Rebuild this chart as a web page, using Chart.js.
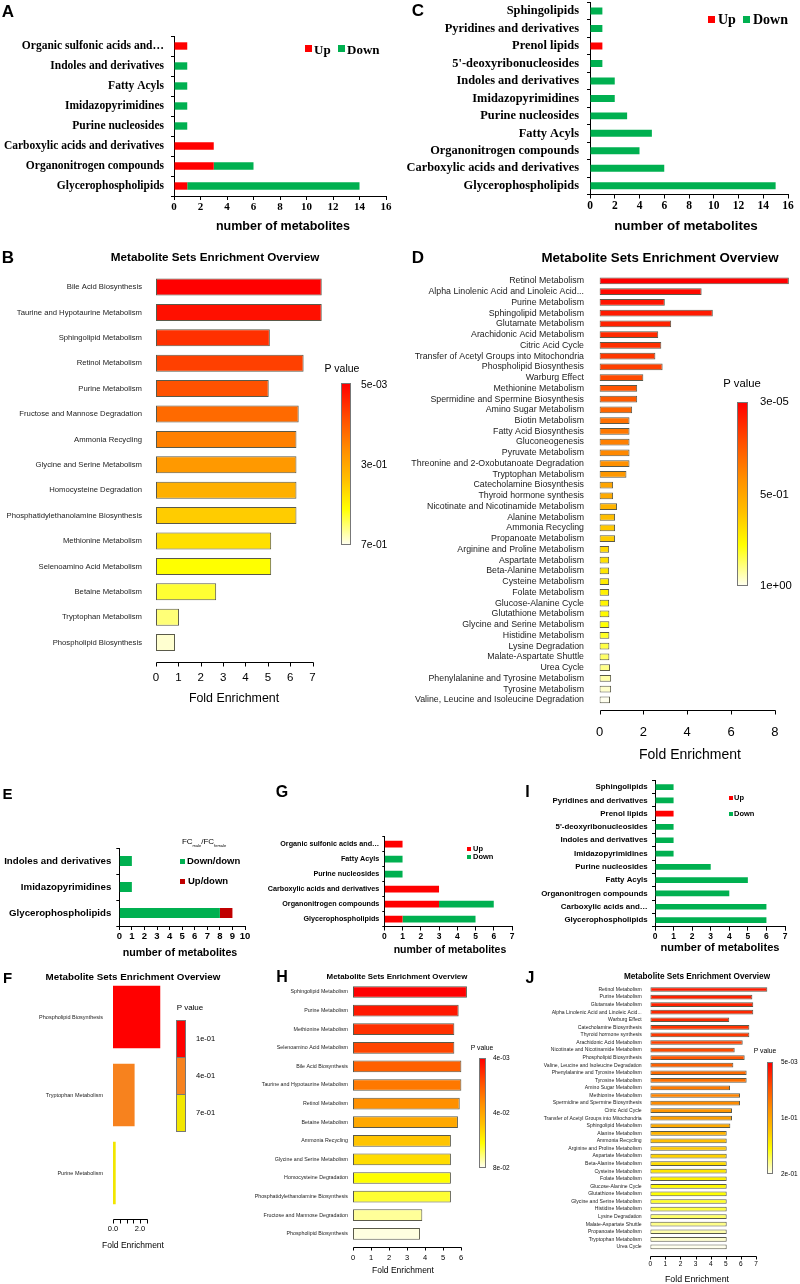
<!DOCTYPE html>
<html><head><meta charset="utf-8">
<script src="https://cdn.jsdelivr.net/npm/chart.js@4.4.1/dist/chart.umd.min.js"></script>
<style>
html,body{margin:0;padding:0;background:#fff;}
body{width:800px;height:1284px;overflow:hidden;position:relative;font-family:"Liberation Sans",Arial,sans-serif;}
canvas{position:absolute;}
.t{position:absolute;white-space:nowrap;line-height:1;color:#000;}
.sq{position:absolute;}
.cb{position:absolute;border:1px solid #777;box-sizing:border-box;}
</style></head><body>
<script>
// ---------------- DATA ----------------
const aCats = ['Organic sulfonic acids and\u2026','Indoles and derivatives','Fatty Acyls','Imidazopyrimidines','Purine nucleosides','Carboxylic acids and derivatives','Organonitrogen compounds','Glycerophospholipids'];
const aUp   = [1,0,0,0,0,3,3,1];
const aDown = [0,1,1,1,1,0,3,13];

const cCats = ['Sphingolipids','Pyridines and derivatives','Prenol lipids',"5'-deoxyribonucleosides",'Indoles and derivatives','Imidazopyrimidines','Purine nucleosides','Fatty Acyls','Organonitrogen compounds','Carboxylic acids and derivatives','Glycerophospholipids'];
const cUp   = [0,0,1,0,0,0,0,0,0,0,0];
const cDown = [1,1,0,1,2,2,3,5,4,6,15];

const bCats = ['Bile Acid Biosynthesis','Taurine and Hypotaurine Metabolism','Sphingolipid Metabolism','Retinol Metabolism','Purine Metabolism','Fructose and Mannose Degradation','Ammonia Recycling','Glycine and Serine Metabolism','Homocysteine Degradation','Phosphatidylethanolamine Biosynthesis','Methionine Metabolism','Selenoamino Acid Metabolism','Betaine Metabolism','Tryptophan Metabolism','Phospholipid Biosynthesis'];
const bFold = [7.41,7.41,5.09,6.6,5.04,6.38,6.28,6.28,6.28,6.28,5.15,5.15,2.69,1.03,0.85];
const bTicks = [0,1,2,3,4,5,6,7];
const bPLabels = ['5e-03','3e-01','7e-01'];

const dCats = ['Retinol Metabolism','Alpha Linolenic Acid and Linoleic Acid...','Purine Metabolism','Sphingolipid Metabolism','Glutamate Metabolism','Arachidonic Acid Metabolism','Citric Acid Cycle','Transfer of Acetyl Groups into Mitochondria','Phospholipid Biosynthesis','Warburg Effect','Methionine Metabolism','Spermidine and Spermine Biosynthesis','Amino Sugar Metabolism','Biotin Metabolism','Fatty Acid Biosynthesis','Gluconeogenesis','Pyruvate Metabolism','Threonine and 2-Oxobutanoate Degradation','Tryptophan Metabolism','Catecholamine Biosynthesis','Thyroid hormone synthesis','Nicotinate and Nicotinamide Metabolism','Alanine Metabolism','Ammonia Recycling','Propanoate Metabolism','Arginine and Proline Metabolism','Aspartate Metabolism','Beta-Alanine Metabolism','Cysteine Metabolism','Folate Metabolism','Glucose-Alanine Cycle','Glutathione Metabolism','Glycine and Serine Metabolism','Histidine Metabolism','Lysine Degradation','Malate-Aspartate Shuttle','Urea Cycle','Phenylalanine and Tyrosine Metabolism','Tyrosine Metabolism','Valine, Leucine and Isoleucine Degradation'];
const dFold = [8.64,4.66,2.98,5.17,3.27,2.68,2.82,2.55,2.88,2.0,1.72,1.72,1.49,1.37,1.37,1.37,1.37,1.37,1.23,0.62,0.62,0.8,0.71,0.71,0.71,0.44,0.44,0.44,0.44,0.44,0.44,0.45,0.45,0.45,0.45,0.45,0.48,0.53,0.53,0.48];
const dTicks = [0,2,4,6,8];
const dPLabels = ['3e-05','5e-01','1e+00'];

const eCats = ['Indoles and derivatives','Imidazopyrimidines','Glycerophospholipids'];
const eDownDown = [1,1,8];
const eUpDown   = [0,0,1];

const fCats = ['Phospholipid Biosynthesis','Tryptophan Metabolism','Purine Metabolism'];
const fFold = [3.5,1.6,0.2];
const fTicks = [0,0.5,1,1.5,2,2.5];
const fPLabels = ['1e-01','4e-01','7e-01'];

const gCats = ['Organic sulfonic acids and\u2026','Fatty Acyls','Purine nucleosides','Carboxylic acids and derivatives','Organonitrogen compounds','Glycerophospholipids'];
const gUp   = [1,0,0,3,3,1];
const gDown = [0,1,1,0,3,4];

const hCats = ['Sphingolipid Metabolism','Purine Metabolism','Methionine Metabolism','Selenoamino Acid Metabolism','Bile Acid Biosynthesis','Taurine and Hypotaurine Metabolism','Retinol Metabolism','Betaine Metabolism','Ammonia Recycling','Glycine and Serine Metabolism','Homocysteine Degradation','Phosphatidylethanolamine Biosynthesis','Fructose and Mannose Degradation','Phospholipid Biosynthesis'];
const hFold = [6.33,5.87,5.63,5.63,6.02,6.02,5.93,5.83,5.44,5.44,5.44,5.44,3.85,3.72];
const hTicks = [0,1,2,3,4,5,6];
const hPLabels = ['4e-03','4e-02','8e-02'];

const iCats = ['Sphingolipids','Pyridines and derivatives','Prenol lipids',"5'-deoxyribonucleosides",'Indoles and derivatives','Imidazopyrimidines','Purine nucleosides','Fatty Acyls','Organonitrogen compounds','Carboxylic acids and\u2026','Glycerophospholipids'];
const iUp   = [0,0,1,0,0,0,0,0,0,0,0];
const iDown = [1,1,0,1,1,1,3,5,4,6,6];

const jCats = ['Retinol Metabolism','Purine Metabolism','Glutamate Metabolism','Alpha Linolenic Acid and Linoleic Acid...','Warburg Effect','Catecholamine Biosynthesis','Thyroid hormone synthesis','Arachidonic Acid Metabolism','Nicotinate and Nicotinamide Metabolism','Phospholipid Biosynthesis','Valine, Leucine and Isoleucine Degradation','Phenylalanine and Tyrosine Metabolism','Tyrosine Metabolism','Amino Sugar Metabolism','Methionine Metabolism','Spermidine and Spermine Biosynthesis','Citric Acid Cycle','Transfer of Acetyl Groups into Mitochondria','Sphingolipid Metabolism','Alanine Metabolism','Ammonia Recycling','Arginine and Proline Metabolism','Aspartate Metabolism','Beta-Alanine Metabolism','Cysteine Metabolism','Folate Metabolism','Glucose-Alanine Cycle','Glutathione Metabolism','Glycine and Serine Metabolism','Histidine Metabolism','Lysine Degradation','Malate-Aspartate Shuttle','Propanoate Metabolism','Tryptophan Metabolism','Urea Cycle'];
const jFold = [7.75,6.76,6.82,6.82,5.23,6.56,6.56,6.12,5.59,6.25,5.5,6.38,6.38,5.28,5.94,5.94,5.41,5.41,5.3,5.06,5.06,5.06,5.06,5.06,5.06,5.06,5.06,5.06,5.06,5.06,5.06,5.06,5.06,5.06,5.06];
const jTicks = [0,1,2,3,4,5,6,7];
const jPLabels = ['5e-03','1e-01','2e-01'];

// ---------------- STYLES (colours) ----------------
const RED = '#ff0000', GREEN = '#00b050', DARKRED = '#c00000';
const bColors = ['#ff0000','#ff1000','#ff3000','#ff4000','#ff5200','#ff6a00','#ff8000','#ff9900','#ffb000','#ffcc00','#ffe000','#ffff00','#ffff33','#ffff77','#ffffd0'];
const dColors = ['#ff0000','#ff0a00','#ff1400','#ff1a00','#ff2200','#ff2a00','#ff3000','#ff3800','#ff4000','#ff4a00','#ff5500','#ff5a00','#ff6600','#ff7000','#ff7800','#ff8000','#ff8800','#ff9000','#ff9800','#ffa500','#ffaa00','#ffb400','#ffbe00','#ffc800','#ffcc00','#ffd800','#ffe000','#ffe600','#ffeb00','#fff000','#fff500','#fffa00','#ffff00','#ffff22','#ffff44','#ffff66','#ffff88','#ffffaa','#ffffcc','#ffffee'];
const fColors = ['#ff0000','#f7821e','#f2e600'];
const hColors = ['#ff0000','#ff1800','#ff3000','#ff4500','#ff6000','#ff7800','#ff9000','#ffa800','#ffc400','#ffdc00','#ffff00','#ffff33','#ffff99','#ffffe0'];
const jColors = ['#ff1a00','#ff2000','#ff2200','#ff2600','#ff2a00','#ff3300','#ff3800','#ff4000','#ff4a00','#ff5500','#ff6000','#ff6a00','#ff7000','#ff7a00','#ff8400','#ff8c00','#ff9600','#ffa000','#ffaa00','#ffb400','#ffbe00','#ffc800','#ffd200','#ffdc00','#ffe600','#fff000','#fff800','#ffff00','#ffff22','#ffff44','#ffff66','#ffff88','#ffffaa','#ffffcc','#ffffee'];
const GRAD = 'linear-gradient(to bottom,#ff0000 0%,#ff5000 22%,#ff9000 42%,#ffc000 60%,#ffff00 78%,#ffffee 100%)';

const SERIF = "'Liberation Serif','Times New Roman',serif";
const SANS = "'Liberation Sans',Arial,sans-serif";
Chart.defaults.animation = false;
Chart.defaults.font.family = SANS;
Chart.defaults.color = '#000';

// ---------------- helpers ----------------
function rAxisPlugin(ticks, gap, len) {
  return { id: 'rAxis', afterDraw(chart) {
    const xs = chart.scales.x, ctx = chart.ctx;
    const y = Math.round(chart.chartArea.bottom + gap) + 0.5;
    ctx.save(); ctx.strokeStyle = '#000'; ctx.lineWidth = 1; ctx.beginPath();
    const p0 = Math.round(xs.getPixelForValue(ticks[0])) + 0.5;
    const p1 = Math.round(xs.getPixelForValue(ticks[ticks.length - 1])) + 0.5;
    ctx.moveTo(p0, y); ctx.lineTo(p1, y);
    for (const v of ticks) { const p = Math.round(xs.getPixelForValue(v)) + 0.5; ctx.moveTo(p, y); ctx.lineTo(p, y + len); }
    ctx.stroke(); ctx.restore();
  }};
}

function makeBar(s) {
  const yTick = s.y.tick || 0;
  const padTopMin = s.y.font.size * 0.6 + s.y.pad + yTick + 3;
  const cl = s.cl;
  const ct = Math.floor(s.top - padTopMin);
  const cw = Math.ceil(s.right + (s.padR || 10) - cl);
  const ch = Math.ceil(s.bottom + (s.xH || 40) - ct);
  const cv = document.createElement('canvas');
  cv.width = cw; cv.height = ch;
  cv.style.left = cl + 'px'; cv.style.top = ct + 'px';
  cv.style.width = cw + 'px'; cv.style.height = ch + 'px';
  document.body.appendChild(cv);
  const xOpt = s.x;
  new Chart(cv, {
    type: 'bar',
    data: { labels: s.labels, datasets: s.datasets.map(d => Object.assign({
      barPercentage: s.barPct, categoryPercentage: 1,
      borderWidth: s.bw || 0, borderColor: s.bc || '#000', borderSkipped: false
    }, d)) },
    options: {
      indexAxis: 'y', responsive: false, maintainAspectRatio: false, animation: false,
      layout: { padding: { left: 0, top: s.top - ct, right: cl + cw - s.right, bottom: 0 } },
      plugins: { legend: { display: false }, tooltip: { enabled: false }, title: { display: false } },
      scales: {
        y: {
          type: 'category', stacked: !!s.stacked, offset: true,
          afterFit: sc => { sc.width = s.left - cl; },
          grid: { display: yTick > 0, drawOnChartArea: false, drawTicks: yTick > 0, tickLength: yTick, offset: true, color: '#000' },
          border: { display: !!s.y.border, color: '#000', width: 1 },
          ticks: { autoSkip: false, padding: s.y.pad, font: s.y.font, color: s.y.color || '#000' }
        },
        x: {
          type: 'linear', stacked: !!s.stacked, min: s.xMin, max: s.xMax,
          afterFit: sc => { sc.height = ct + ch - s.bottom; },
          afterBuildTicks: xOpt.ticks ? (sc => { sc.ticks = xOpt.ticks.map(v => ({ value: v })); }) : undefined,
          grid: xOpt.excel ? { display: true, drawOnChartArea: false, drawTicks: true, tickLength: 4, color: '#000' } : { display: false, drawTicks: false },
          border: { display: !!xOpt.excel, color: '#000', width: 1 },
          ticks: { autoSkip: false, maxRotation: 0, minRotation: 0, padding: xOpt.pad, font: xOpt.font, color: '#000', stepSize: xOpt.step,
                   callback: xOpt.fmt || (v => String(v)) }
        }
      }
    },
    plugins: s.rAxis ? [rAxisPlugin(xOpt.ticks, s.rAxis.gap, s.rAxis.len)] : []
  });
}

function T(text, x, y, o) {
  o = o || {};
  const d = document.createElement('div'); d.className = 't';
  d.innerHTML = text;
  d.style.left = x + 'px'; d.style.top = y + 'px';
  d.style.fontSize = (o.size || 12) + 'px';
  if (o.bold) d.style.fontWeight = 'bold';
  if (o.serif) d.style.fontFamily = SERIF;
  if (o.color) d.style.color = o.color;
  const a = o.anchor || 'c';
  d.style.transform = a === 'c' ? 'translate(-50%,-50%)' : a === 'l' ? 'translate(0,-50%)' : 'translate(-100%,-50%)';
  document.body.appendChild(d);
}
function SQ(x, y, w, h, c) {
  const d = document.createElement('div'); d.className = 'sq';
  d.style.left = x + 'px'; d.style.top = y + 'px'; d.style.width = w + 'px'; d.style.height = h + 'px'; d.style.background = c;
  document.body.appendChild(d);
}
function CB(x, y, w, h, bg) {
  const d = document.createElement('div'); d.className = 'cb';
  d.style.left = x + 'px'; d.style.top = y + 'px'; d.style.width = w + 'px'; d.style.height = h + 'px'; d.style.background = bg;
  document.body.appendChild(d);
}

// ---------------- Panel A ----------------
makeBar({ cl: 0, left: 174, right: 386, top: 36, bottom: 196, padR: 10, xH: 40, stacked: true, barPct: 0.37,
  labels: aCats,
  datasets: [{ data: aUp, backgroundColor: RED }, { data: aDown, backgroundColor: GREEN }],
  xMin: 0, xMax: 16,
  y: { font: { size: 11.5, weight: 'bold', family: SERIF }, tick: 3, pad: 7, border: true },
  x: { excel: true, step: 2, pad: 1, font: { size: 11, weight: 'bold', family: SERIF } } });
T('A', 8, 11, { size: 17, bold: true });
T('number of metabolites', 283, 226, { size: 12.5, bold: true });
SQ(305, 45, 7, 7, RED); T('Up', 314, 49, { size: 13, bold: true, serif: true, anchor: 'l' });
SQ(338, 45, 7, 7, GREEN); T('Down', 347, 49, { size: 13, bold: true, serif: true, anchor: 'l' });

// ---------------- Panel C ----------------
makeBar({ cl: 400, left: 590, right: 788, top: 2.3, bottom: 194.5, padR: 10, xH: 40, stacked: true, barPct: 0.4,
  labels: cCats,
  datasets: [{ data: cUp, backgroundColor: RED }, { data: cDown, backgroundColor: GREEN }],
  xMin: 0, xMax: 16,
  y: { font: { size: 12.4, weight: 'bold', family: SERIF }, tick: 3, pad: 8, border: true },
  x: { excel: true, step: 2, pad: 1, font: { size: 11.5, weight: 'bold', family: SERIF } } });
T('C', 418, 10, { size: 17, bold: true });
T('number of metabolites', 686, 226, { size: 13.4, bold: true });
SQ(708, 16, 7, 7, RED); T('Up', 718, 20, { size: 14, bold: true, serif: true, anchor: 'l' });
SQ(743, 16, 7, 7, GREEN); T('Down', 753, 20, { size: 14, bold: true, serif: true, anchor: 'l' });

// ---------------- Panel B ----------------
makeBar({ cl: 0, left: 156, right: 156 + 7.6 * 22.43, top: 274.3, bottom: 655.3, padR: 5, xH: 55, barPct: 0.67,
  bw: 1, bc: '#5a5a4a',
  labels: bCats,
  datasets: [{ data: bFold, backgroundColor: bColors }],
  xMin: 0, xMax: 7.6,
  y: { font: { size: 7.7 }, color: '#222', pad: 14 },
  x: { ticks: bTicks, pad: 15.8, font: { size: 11.5 } },
  rAxis: { gap: 6.7, len: 4 } });
T('B', 8, 257, { size: 17, bold: true });
T('Metabolite Sets Enrichment Overview', 215, 257, { size: 11.7, bold: true });
T('Fold Enrichment', 234, 698, { size: 12.4 });
T('P value', 342, 368, { size: 10.5 });
CB(341, 383, 10, 162, GRAD);
T(bPLabels[0], 361, 385, { size: 10.3, anchor: 'l' });
T(bPLabels[1], 361, 465, { size: 10.3, anchor: 'l' });
T(bPLabels[2], 361, 545, { size: 10.3, anchor: 'l' });

// ---------------- Panel D ----------------
makeBar({ cl: 400, left: 599.5, right: 599.5 + 8.75 * 21.94, top: 275.6, bottom: 705.2, padR: 6, xH: 60, barPct: 0.63,
  bw: 1, bc: '#5a5a4a',
  labels: dCats,
  datasets: [{ data: dFold, backgroundColor: dColors }],
  xMin: 0, xMax: 8.75,
  y: { font: { size: 8.8 }, color: '#222', pad: 15.5 },
  x: { ticks: dTicks, pad: 19, font: { size: 13 } },
  rAxis: { gap: 4.8, len: 4 } });
T('D', 418, 257, { size: 17, bold: true });
T('Metabolite Sets Enrichment Overview', 660, 258, { size: 13.3, bold: true });
T('Fold Enrichment', 690, 754, { size: 14 });
T('P value', 742, 384, { size: 11.3 });
CB(737, 402, 11, 184, GRAD);
T(dPLabels[0], 760, 402, { size: 11.3, anchor: 'l' });
T(dPLabels[1], 760, 495, { size: 11.3, anchor: 'l' });
T(dPLabels[2], 760, 586, { size: 11.3, anchor: 'l' });

// ---------------- Panel E ----------------
makeBar({ cl: 0, left: 119.3, right: 245, top: 848, bottom: 926, padR: 8, xH: 40, stacked: true, barPct: 0.38,
  labels: eCats,
  datasets: [{ data: eDownDown, backgroundColor: GREEN }, { data: eUpDown, backgroundColor: DARKRED }],
  xMin: 0, xMax: 10,
  y: { font: { size: 9.7, weight: 'bold' }, tick: 3, pad: 5, border: true },
  x: { excel: true, step: 1, pad: 1, font: { size: 9.5, weight: 'bold' } } });
T('E', 7.5, 793, { size: 15, bold: true });
T('number of metabolites', 180, 952, { size: 10.7, bold: true });
T('FC<sub style="font-size:4px">male</sub>/FC<sub style="font-size:4px">female</sub>', 204, 843, { size: 8 });
SQ(180, 859, 5, 5, GREEN); T('Down/down', 187, 861, { size: 9.5, bold: true, anchor: 'l' });
SQ(180, 879, 5, 5, DARKRED); T('Up/down', 188, 881, { size: 9.5, bold: true, anchor: 'l' });

// ---------------- Panel F ----------------
makeBar({ cl: 0, left: 113, right: 113 + 3.6 * 13.5, top: 978, bottom: 1212, padR: 5, xH: 40, barPct: 0.8,
  labels: fCats,
  datasets: [{ data: fFold, backgroundColor: fColors }],
  xMin: 0, xMax: 3.6,
  y: { font: { size: 5.5 }, color: '#222', pad: 10 },
  x: { ticks: fTicks, pad: 12, font: { size: 7.5 }, fmt: v => (v === 0 || v === 2) ? v.toFixed(1) : '' },
  rAxis: { gap: 7, len: 4 } });
T('F', 7.5, 977, { size: 15, bold: true });
T('Metabolite Sets Enrichment Overview', 133, 977, { size: 9.8, bold: true });
T('Fold Enrichment', 133, 1245, { size: 8.5 });
T('P value', 190, 1008, { size: 8 });
CB(176, 1020, 10, 38, fColors[0]);
CB(176, 1057, 10, 38, fColors[1]);
CB(176, 1094, 10, 38, fColors[2]);
T(fPLabels[0], 196, 1039, { size: 7.5, anchor: 'l' });
T(fPLabels[1], 196, 1076, { size: 7.5, anchor: 'l' });
T(fPLabels[2], 196, 1113, { size: 7.5, anchor: 'l' });

// ---------------- Panel G ----------------
makeBar({ cl: 250, left: 384.3, right: 512, top: 836.5, bottom: 926.5, padR: 8, xH: 40, stacked: true, barPct: 0.45,
  labels: gCats,
  datasets: [{ data: gUp, backgroundColor: RED }, { data: gDown, backgroundColor: GREEN }],
  xMin: 0, xMax: 7,
  y: { font: { size: 7.2, weight: 'bold' }, tick: 2, pad: 3, border: true },
  x: { excel: true, step: 1, pad: 1.4, font: { size: 8.5, weight: 'bold' } } });
T('G', 282, 792, { size: 16, bold: true });
T('number of metabolites', 450, 949, { size: 10.5, bold: true });
SQ(467, 847, 4, 4, RED); T('Up', 473, 849, { size: 7.5, bold: true, anchor: 'l' });
SQ(467, 855, 4, 4, GREEN); T('Down', 473, 857, { size: 7.5, bold: true, anchor: 'l' });

// ---------------- Panel H ----------------
makeBar({ cl: 250, left: 353, right: 353 + 6.45 * 18, top: 982.7, bottom: 1243.1, padR: 5, xH: 40, barPct: 0.63,
  bw: 1, bc: '#5a5a4a',
  labels: hCats,
  datasets: [{ data: hFold, backgroundColor: hColors }],
  xMin: 0, xMax: 6.45,
  y: { font: { size: 5.3 }, color: '#222', pad: 5 },
  x: { ticks: hTicks, pad: 10.4, font: { size: 7.5 } },
  rAxis: { gap: 3.9, len: 3 } });
T('H', 282, 977, { size: 16, bold: true });
T('Metabolite Sets Enrichment Overview', 397, 977, { size: 7.9, bold: true });
T('Fold Enrichment', 403, 1270, { size: 8.5 });
T('P value', 482, 1048, { size: 6.8 });
CB(479, 1058, 7, 110, GRAD);
T(hPLabels[0], 493, 1058, { size: 6.5, anchor: 'l' });
T(hPLabels[1], 493, 1113, { size: 6.5, anchor: 'l' });
T(hPLabels[2], 493, 1168, { size: 6.5, anchor: 'l' });

// ---------------- Panel I ----------------
makeBar({ cl: 520, left: 655, right: 785, top: 780.4, bottom: 926.7, padR: 10, xH: 40, stacked: true, barPct: 0.43,
  labels: iCats,
  datasets: [{ data: iUp, backgroundColor: RED }, { data: iDown, backgroundColor: GREEN }],
  xMin: 0, xMax: 7,
  y: { font: { size: 7.9, weight: 'bold' }, tick: 3, pad: 4.3, border: true },
  x: { excel: true, step: 1, pad: 1.2, font: { size: 8.5, weight: 'bold' } } });
T('I', 527.5, 792, { size: 16, bold: true });
T('number of metabolites', 720, 948, { size: 11.1, bold: true });
SQ(729, 796, 4, 4, RED); T('Up', 734, 798, { size: 7.5, bold: true, anchor: 'l' });
SQ(729, 812, 4, 4, GREEN); T('Down', 734, 814, { size: 7.5, bold: true, anchor: 'l' });

// ---------------- Panel J ----------------
makeBar({ cl: 520, left: 650.3, right: 650.3 + 7.85 * 15.1, top: 985.7, bottom: 1250.7, padR: 5, xH: 35, barPct: 0.62,
  bw: 1, bc: '#5a5a4a',
  labels: jCats,
  datasets: [{ data: jFold, backgroundColor: jColors }],
  xMin: 0, xMax: 7.85,
  y: { font: { size: 5.1 }, color: '#222', pad: 8.6 },
  x: { ticks: jTicks, pad: 9.4, font: { size: 6.5 } },
  rAxis: { gap: 5.3, len: 3 } });
T('J', 530, 978, { size: 16, bold: true });
T('Metabolite Sets Enrichment Overview', 697, 977, { size: 8.2, bold: true });
T('Fold Enrichment', 697, 1279, { size: 8.8 });
T('P value', 765, 1051, { size: 6.8 });
CB(767, 1062, 6, 112, GRAD);
T(jPLabels[0], 781, 1062, { size: 6.5, anchor: 'l' });
T(jPLabels[1], 781, 1118, { size: 6.5, anchor: 'l' });
T(jPLabels[2], 781, 1174, { size: 6.5, anchor: 'l' });
</script>
</body></html>
